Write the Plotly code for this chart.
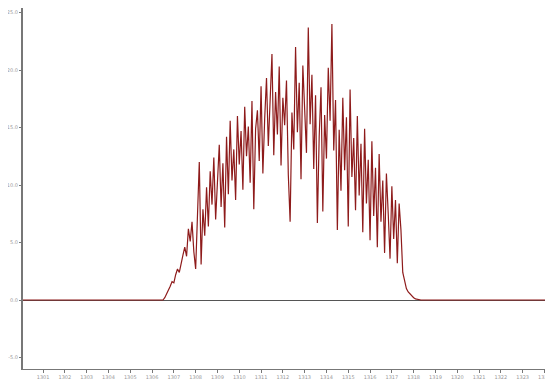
import plotly.graph_objects as go

# ---- data ----
step_hours = [6.5 + i / 12 for i in range(145)]
hours = [0.0] + step_hours + [24.3]

power_day = [
    0.0, 0.2, 0.5, 0.9, 1.2, 1.6, 1.5, 2.2, 2.7, 2.4, 3.3, 3.9,
    4.6, 3.8, 6.2, 5.1, 6.8, 4.2, 2.7, 8.5, 12.0, 3.1, 7.9, 5.6,
    9.8, 6.4, 11.2, 8.3, 12.4, 7.0, 10.6, 13.5, 8.1, 11.9, 6.3, 14.2,
    9.2, 15.6, 10.4, 13.1, 8.7, 16.0, 11.8, 14.7, 9.6, 16.8, 12.5, 15.1,
    10.2, 17.3, 7.9, 14.9, 16.5, 12.1, 18.6, 11.0, 15.8, 19.3, 13.4, 17.0,
    21.4, 12.6, 18.1, 14.4, 20.3, 11.7, 17.6, 15.2, 19.1, 10.9, 6.8, 16.3,
    13.1, 22.0, 14.6, 18.9, 10.5, 20.4, 16.7, 12.8, 23.7, 15.3, 19.6, 11.4,
    17.8, 6.7, 14.2, 18.5, 7.7, 16.1, 12.3, 20.2, 15.6, 24.0, 13.0, 17.4,
    6.1, 14.8, 9.5, 17.6, 11.3, 15.9, 6.4, 18.3, 10.7, 14.1, 7.8, 16.0,
    9.1, 13.6, 5.9, 14.9, 8.4, 12.2, 5.2, 13.8, 7.3, 11.5, 4.6, 12.7,
    6.8, 10.4, 4.1, 11.0, 7.5, 3.6, 9.9, 5.3, 8.7, 3.2, 8.4, 6.1,
    2.4, 1.6, 1.0, 0.7, 0.5, 0.3, 0.2, 0.1, 0.05, 0.0, 0.0, 0.0, 0.0,
]
power = [0.0] + power_day + [0.0]

x_tick_vals = list(range(1, 25))
x_tick_text = ["1301", "1302", "1303", "1304", "1305", "1306", "1307", "1308",
               "1309", "1310", "1311", "1312", "1313", "1314", "1315", "1316",
               "1317", "1318", "1319", "1320", "1321", "1322", "1323", "1324"]
y_tick_vals = [-5, 0, 5, 10, 15, 20, 25]
y_tick_text = ["-5.0", "0.0", "5.0", "10.0", "15.0", "20.0", "25.0"]

# ---- figure ----
fig = go.Figure()
fig.add_trace(go.Scatter(
    x=hours, y=power, mode="lines",
    line=dict(color="#8e1b1b", width=1.2),
    showlegend=False, hoverinfo="skip",
))

fig.update_layout(
    width=545, height=375,
    margin=dict(l=15, r=2, t=0, b=14),
    paper_bgcolor="white", plot_bgcolor="white",
    font=dict(family="DejaVu Sans", size=6, color="#888888"),
)
fig.update_xaxes(
    range=[0.08, 24.3],
    tickvals=x_tick_vals, ticktext=x_tick_text,
    showgrid=False, zeroline=False,
    showline=True, linecolor="#777777", linewidth=1,
    ticks="outside", ticklen=3, tickcolor="#777777",
    tickfont=dict(size=5, color="#999999"),
)
fig.update_yaxes(
    range=[-6.0, 25.4],
    tickvals=y_tick_vals, ticktext=y_tick_text,
    showgrid=False,
    zeroline=True, zerolinecolor="#555555", zerolinewidth=1,
    showline=True, linecolor="#777777", linewidth=2,
    ticks="outside", ticklen=2, tickcolor="#777777",
    tickfont=dict(size=5, color="#999999"),
)

fig.write_html("out.html")
